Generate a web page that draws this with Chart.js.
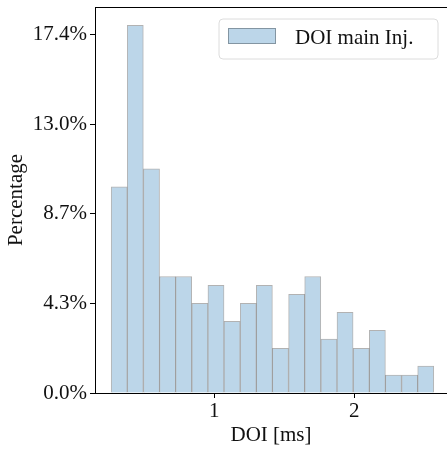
<!DOCTYPE html>
<html>
<head>
<meta charset="utf-8">
<script src="https://cdn.jsdelivr.net/npm/chart.js@4.4.1/dist/chart.umd.min.js"></script>
<style>
  html, body { margin: 0; padding: 0; background: #fff; overflow: hidden; }
  #wrap { width: 447px; height: 454px; }
</style>
</head>
<body>
<div id="wrap"><canvas id="doiChart"></canvas></div>
<script>
// bin centres of the DOI histogram [ms]
const binCenters = [0.320, 0.435, 0.551, 0.666, 0.781, 0.897, 1.012, 1.127, 1.243, 1.358,
                    1.473, 1.589, 1.704, 1.820, 1.935, 2.051, 2.166, 2.281, 2.397, 2.512];
// share of main injections falling in each bin [%]
const binPercent = [10.00, 17.83, 10.87, 5.65, 5.65, 4.35, 5.22, 3.48, 4.35, 5.22,
                    2.17, 4.78, 5.65, 2.61, 3.91, 2.17, 3.04, 0.87, 0.87, 1.30];
const yTickValues = [0, 4.348, 8.696, 13.043, 17.391];
const xTickValues = [1, 2];
const seriesLabel = 'DOI main Inj.';

const FONT = "'Liberation Serif', 'Times New Roman', serif";
const barFill = 'rgb(188, 214, 233)';
const barEdge = 'rgba(0, 0, 0, 0.3)';

Chart.defaults.font.family = FONT;
Chart.defaults.font.size = 21;
Chart.defaults.color = '#111';

// top spine + boxed legend like matplotlib
const frameAndLegend = {
  id: 'frameAndLegend',
  afterDraw(chart) {
    const { ctx, chartArea } = chart;
    ctx.save();
    ctx.strokeStyle = '#000';
    ctx.lineWidth = 1;
    ctx.beginPath();
    ctx.moveTo(chartArea.left, chartArea.top + 0.5);
    ctx.lineTo(chartArea.right, chartArea.top + 0.5);
    ctx.stroke();

    // legend box
    const bw = 219, bh = 40;
    const bx = chartArea.right - 9 - bw, by = chartArea.top + 12;
    const r = 4;
    ctx.beginPath();
    ctx.moveTo(bx + r, by);
    ctx.lineTo(bx + bw - r, by);
    ctx.arcTo(bx + bw, by, bx + bw, by + r, r);
    ctx.lineTo(bx + bw, by + bh - r);
    ctx.arcTo(bx + bw, by + bh, bx + bw - r, by + bh, r);
    ctx.lineTo(bx + r, by + bh);
    ctx.arcTo(bx, by + bh, bx, by + bh - r, r);
    ctx.lineTo(bx, by + r);
    ctx.arcTo(bx, by, bx + r, by, r);
    ctx.closePath();
    ctx.fillStyle = 'rgba(255,255,255,0.85)';
    ctx.fill();
    ctx.strokeStyle = '#dcdcdc';
    ctx.stroke();

    const ds = chart.data.datasets[0];
    ctx.fillStyle = ds.backgroundColor;
    ctx.fillRect(bx + 9, by + 9, 48, 16);
    ctx.strokeStyle = ds.borderColor;
    ctx.strokeRect(bx + 9.5, by + 9.5, 47, 15);

    ctx.fillStyle = '#111';
    ctx.font = "21px " + FONT;
    ctx.textBaseline = 'middle';
    ctx.textAlign = 'left';
    ctx.fillText(ds.label, bx + 76, by + 19);
    ctx.restore();
  }
};

const ctx = document.getElementById('doiChart').getContext('2d');
new Chart(ctx, {
  type: 'bar',
  data: {
    datasets: [{
      label: seriesLabel,
      data: binCenters.map((x, i) => ({ x: x, y: binPercent[i] })),
      backgroundColor: barFill,
      borderColor: barEdge,
      borderWidth: 1,
      barPercentage: 1,
      categoryPercentage: 1
    }]
  },
  options: {
    responsive: true,
    maintainAspectRatio: false,
    animation: false,
    layout: { padding: { top: 7, right: 0, left: 0, bottom: 0 } },
    plugins: {
      legend: { display: false },
      tooltip: { enabled: false }
    },
    scales: {
      x: {
        type: 'linear',
        offset: false,
        min: 0.147,
        max: 2.664,
        afterBuildTicks: scale => { scale.ticks = xTickValues.map(v => ({ value: v })); },
        afterFit: scale => { scale.height = 61; scale.paddingLeft = 0; scale.paddingRight = 0; },
        ticks: { padding: 1, callback: v => String(v), maxRotation: 0 },
        grid: { drawOnChartArea: false, offset: false, tickLength: 5, tickColor: '#000' },
        border: { color: '#000', width: 1 },
        title: { display: true, text: 'DOI [ms]', padding: { top: 0, bottom: 6 } }
      },
      y: {
        min: 0,
        max: 18.72,
        afterBuildTicks: scale => { scale.ticks = yTickValues.map(v => ({ value: v })); },
        afterFit: scale => { scale.width = 95; scale.paddingTop = 0; scale.paddingBottom = 0; },
        ticks: { padding: 3, callback: v => v.toFixed(1) + '%' },
        grid: { drawOnChartArea: false, tickLength: 5, tickColor: '#000' },
        border: { color: '#000', width: 1 },
        title: { display: true, text: 'Percentage', padding: { top: 4, bottom: 0 } }
      }
    }
  },
  plugins: [frameAndLegend]
});
</script>
</body>
</html>
